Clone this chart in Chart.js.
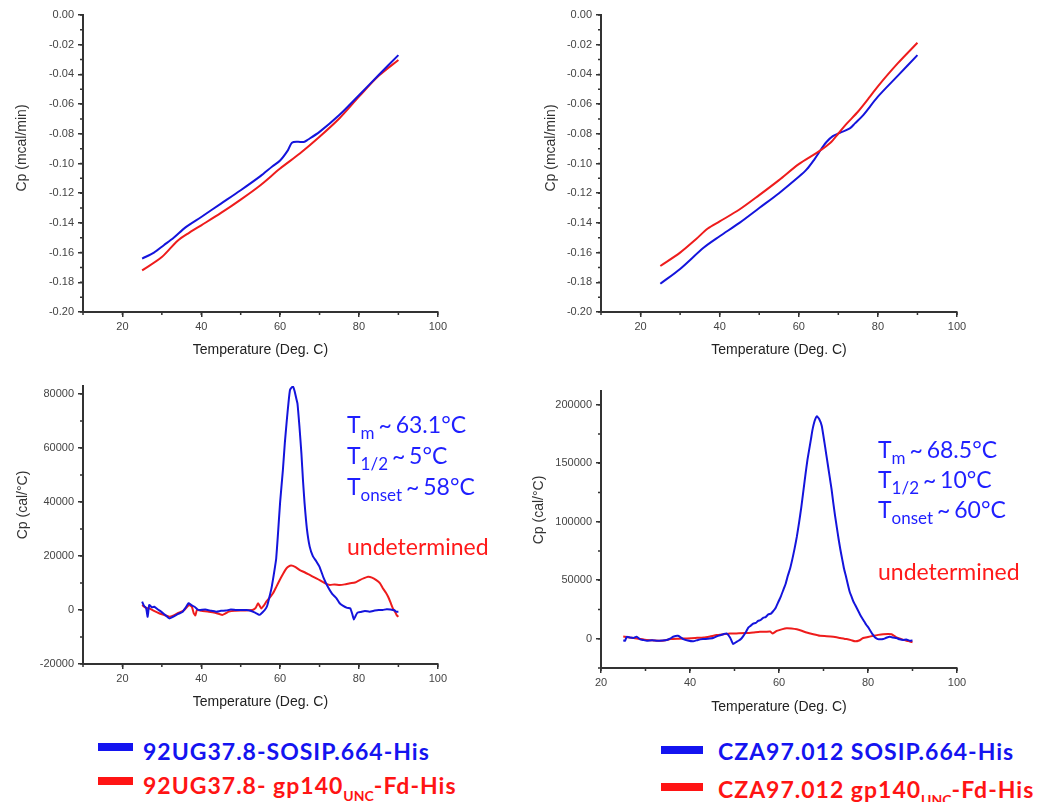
<!DOCTYPE html>
<html>
<head>
<meta charset="utf-8">
<script src="https://cdn.jsdelivr.net/npm/chart.js@4.4.1/dist/chart.umd.min.js"></script>
<style>
  body { margin: 0; background: #fff; width: 1037px; height: 802px; position: relative; overflow: hidden; font-family: Lato, sans-serif; }
  canvas { position: absolute; }
  .ytitle { position: absolute; transform: translate(-50%, -50%) rotate(-90deg); font: 14px "Liberation Sans", Arial, sans-serif; color: #333; white-space: nowrap; }
  .note { position: absolute; font-size: 23px; line-height: 30px; white-space: nowrap; }
  .note.blue { word-spacing: -2px; }
  .note sub { font-size: 17px; vertical-align: -6px; line-height: 0; }
  .blue { color: #1f1fff; }
  .red { color: #ff1a1a; }
  .swatch { position: absolute; height: 8px; }
  .leg { position: absolute; font-weight: bold; font-size: 23px; letter-spacing: 1px; line-height: 26px; white-space: nowrap; }
  .leg sub { font-size: 14px; letter-spacing: 0; vertical-align: -7px; line-height: 0; }
</style>
</head>
<body>
<canvas id="tl"></canvas>
<canvas id="tr"></canvas>
<canvas id="bl"></canvas>
<canvas id="br"></canvas>

<div class="ytitle" style="left:21px;top:148px">Cp (mcal/min)</div>
<div class="ytitle" style="left:550px;top:148px">Cp (mcal/min)</div>
<div class="ytitle" style="left:22px;top:505px">Cp (cal/°C)</div>
<div class="ytitle" style="left:538px;top:510px">Cp (cal/°C)</div>

<div class="note blue" style="left:347px;top:409px">T<sub>m</sub> ~ 63.1°C</div>
<div class="note blue" style="left:347px;top:440px">T<sub>1/2</sub> ~ 5°C</div>
<div class="note blue" style="left:347px;top:471px">T<sub>onset</sub> ~ 58°C</div>
<div class="note red" style="left:347px;top:531px">undetermined</div>

<div class="note blue" style="left:878px;top:434px">T<sub>m</sub> ~ 68.5°C</div>
<div class="note blue" style="left:878px;top:464px">T<sub>1/2</sub> ~ 10°C</div>
<div class="note blue" style="left:878px;top:494px">T<sub>onset</sub> ~ 60°C</div>
<div class="note red" style="left:878px;top:556px">undetermined</div>

<div class="swatch" style="left:98px;top:743px;width:35px;background:#1414f0"></div>
<div class="leg" style="left:143px;top:738px;color:#1414f0">92UG37.8-SOSIP.664-His</div>
<div class="swatch" style="left:98px;top:777px;width:35px;background:#ff1414"></div>
<div class="leg" style="left:143px;top:772px;color:#ff1414">92UG37.8- gp140<sub>UNC</sub>-Fd-His</div>

<div class="swatch" style="left:661px;top:746px;width:42px;background:#1414f0"></div>
<div class="leg" style="left:718px;top:738px;color:#1414f0">CZA97.012 SOSIP.664-His</div>
<div class="swatch" style="left:661px;top:783px;width:42px;background:#ff1414"></div>
<div class="leg" style="left:718px;top:776px;color:#ff1414">CZA97.012 gp140<sub>UNC</sub>-Fd-His</div>

<script>
// tick labels
const tempTicks = [20, 40, 60, 80, 100];
const topCpTicks = [0, -0.02, -0.04, -0.06, -0.08, -0.10, -0.12, -0.14, -0.16, -0.18, -0.20];
const blCpTicks = [-20000, 0, 20000, 40000, 60000, 80000];
const brCpTicks = [0, 50000, 100000, 150000, 200000];

// top row, baseline scans (mcal/min)
const tlBlueT = [25, 28, 30.5, 33, 36, 40, 45, 50, 55, 58, 60, 62, 63, 64.5, 66, 67, 70, 75, 80, 85, 90];
const tlBlueCp = [-0.164, -0.160, -0.155, -0.150, -0.143, -0.136, -0.127, -0.118, -0.1085, -0.102, -0.098, -0.091, -0.086, -0.0854, -0.0855, -0.084, -0.0787, -0.0674, -0.054, -0.0404, -0.027];
const tlRedT = [25, 30, 34, 37, 40, 45, 50, 55, 60, 65, 70, 75, 80, 85, 90];
const tlRedCp = [-0.172, -0.163, -0.152, -0.1465, -0.1416, -0.1333, -0.1243, -0.1146, -0.1034, -0.0933, -0.082, -0.0697, -0.055, -0.041, -0.0303];

const trBlueT = [25, 30, 36, 40, 45, 50, 55, 60, 62, 64, 65, 66, 67, 68.6, 70.4, 72.9, 74.2, 76.3, 80, 85, 90];
const trBlueCp = [-0.181, -0.171, -0.1566, -0.149, -0.140, -0.130, -0.120, -0.109, -0.104, -0.097, -0.093, -0.089, -0.0855, -0.0816, -0.0793, -0.0764, -0.073, -0.0674, -0.055, -0.041, -0.027];
const trRedT = [25, 30, 34, 37, 40, 45, 50, 55, 60, 65, 68, 70, 72, 75, 78, 80, 85, 90];
const trRedCp = [-0.169, -0.160, -0.151, -0.1438, -0.139, -0.131, -0.1213, -0.1112, -0.1004, -0.092, -0.086, -0.0798, -0.0735, -0.065, -0.055, -0.048, -0.0326, -0.0187];

// bottom row, excess heat capacity (cal/°C)
const blBlueT = [25.0, 25.5, 26.0, 26.4, 26.8, 27.5, 28.1, 29.0, 29.8, 30.8, 31.9, 32.8, 33.6, 34.5, 35.3, 36.0, 36.8, 37.5, 38.3, 39.0,
  39.5, 41.0, 42.5, 43.8, 45.0, 46.3, 47.5, 48.8, 50.0, 51.4, 52.5, 53.5, 54.2, 54.8, 55.5, 56.1, 56.7, 57.3, 57.8, 58.3,
  58.7, 59.0, 59.4, 60.0, 60.7, 61.2, 61.7, 62.1, 62.5, 63.0, 63.3, 63.7, 64.0, 64.4, 64.9, 65.4, 65.8, 66.2, 66.8, 67.5,
  68.3, 69.2, 70.0, 71.0, 72.1, 73.2, 74.3, 75.1, 76.0, 77.0, 77.8, 78.3, 78.7, 79.2, 79.6, 80.5, 81.5, 82.7, 84.0, 85.0,
  86.0, 87.0, 88.0, 89.0, 89.4, 90.0];
const blBlueCp = [3100, 1500, 800, -2500, 1850, 1000, 1200, 200, -600, -1800, -3100, -2500, -1850, -1200, -600, 800, 2500, 1800, 1200, 300,
  0, 200, -300, -600, -300, -200, 200, 0, 0, 0, -300, -900, -1400, -1800, -900, 0, 1500, 4900, 8000, 12300,
  16000, 19000, 27000, 40000, 51800, 62000, 70400, 76500, 81500, 82600, 82700, 81000, 79000, 76500, 68000, 58000, 48000, 39600, 30000, 23500,
  20000, 18000, 16000, 12000, 8600, 6000, 4300, 2500, 1500, 800, 600, -1500, -3500, -2000, -1000, -700, -400, -600, -200, 0,
  0, 300, 200, -100, -600, -600];
const blRedT = [25.0, 26.0, 26.8, 28.0, 29.3, 30.5, 31.9, 33.0, 34.3, 35.5, 36.9, 37.6, 38.1, 38.5, 38.9, 40.0, 41.9, 43.5, 45.3, 46.2,
  47.0, 48.5, 50.4, 52.0, 53.0, 53.8, 54.4, 55.2, 55.8, 56.5, 57.3, 58.2, 59.0, 59.9, 60.8, 61.6, 62.2, 62.8, 63.8, 65.0,
  66.2, 67.5, 68.8, 70.0, 71.3, 72.6, 73.8, 75.1, 76.4, 77.7, 79.0, 80.2, 81.3, 82.3, 83.3, 84.4, 85.3, 86.1, 86.8, 87.4,
  88.0, 88.6, 89.2, 89.6, 90.0];
const blRedCp = [1850, 800, 600, -300, -1200, -1800, -2500, -2000, -1000, -200, 1850, 1200, -1200, -2000, 0, -300, -600, -1000, -1800, -1200,
  -600, -300, -200, -100, 0, 800, 2500, 600, 1500, 3100, 4500, 6200, 8500, 11100, 13500, 15400, 16200, 16500, 16000, 14800,
  14000, 13000, 12000, 11100, 10000, 9300, 9500, 9300, 9500, 9900, 10200, 11100, 11800, 12300, 12000, 11100, 10000, 8000, 6500, 4900,
  2800, 600, -800, -2000, -2500];

const brBlueT = [25.0, 25.4, 25.8, 26.5, 27.3, 28.0, 28.8, 29.5, 30.3, 31.5, 32.6, 33.8, 34.8, 35.5, 36.2, 37.3, 38.5, 39.5, 40.7, 41.8,
  42.9, 44.0, 45.2, 46.3, 47.5, 48.2, 49.0, 49.7, 50.3, 50.9, 51.5, 52.0, 52.6, 53.1, 53.6, 54.2, 54.8, 55.3, 55.9, 56.5,
  57.0, 57.6, 58.2, 58.7, 59.2, 59.8, 60.4, 61.0, 61.5, 62.0, 62.5, 63.0, 63.5, 64.0, 64.5, 65.0, 65.5, 66.0, 66.4, 66.8,
  67.2, 67.5, 68.0, 68.5, 69.0, 69.6, 70.2, 70.6, 71.0, 71.4, 71.8, 72.2, 72.6, 73.0, 73.4, 73.8, 74.2, 74.6, 75.0, 75.5,
  75.9, 76.3, 76.7, 77.1, 77.5, 77.9, 78.2, 78.7, 79.2, 79.6, 80.1, 80.5, 81.0, 81.6, 82.2, 82.8, 83.4, 84.1, 84.9, 85.6,
  86.4, 87.1, 87.9, 88.6, 89.4, 90.0];
const brBlueCp = [-1500, -1700, 1700, 1000, 600, 1700, -500, -1100, -1700, -1200, -1700, -1500, -1100, 0, 1700, 2500, -300, -1500, -2200, -1000,
  -300, 0, 600, 2500, 3900, 4500, 1100, -4500, -3000, -1700, 0, 2500, 6000, 9500, 11000, 12900, 13500, 15200, 16000, 18000,
  18500, 20800, 21500, 23600, 26000, 31000, 36000, 42000, 47000, 54000, 60000, 68000, 77000, 87000, 99000, 112000, 127000, 142000, 153000, 162000,
  171000, 178000, 186000, 190000, 188000, 182000, 168000, 158000, 148000, 138000, 128000, 116000, 105000, 95000, 85000, 76000, 68000, 60000, 54000, 46000,
  40000, 36000, 32000, 29000, 26000, 23000, 20800, 17500, 14500, 12000, 9500, 7000, 4000, 1100, -300, -500, -300, 800, 1700, 1000,
  600, -500, -1100, -600, -1700, -1500];
const brRedT = [25.0, 25.4, 26.5, 27.3, 28.8, 30.3, 31.8, 33.3, 34.5, 35.6, 37.5, 39.3, 41.2, 43.1, 44.5, 46.0, 47.5, 49.0, 51.0, 52.7,
  54.2, 55.7, 57.0, 58.0, 58.6, 59.5, 60.6, 61.7, 62.8, 64.0, 65.1, 66.2, 67.7, 69.2, 70.7, 72.2, 73.7, 75.2, 76.2, 77.1,
  78.0, 78.9, 80.0, 81.2, 82.3, 83.4, 84.4, 85.3, 85.9, 86.4, 87.5, 88.7, 89.4, 90.0];
const brRedCp = [2000, 1700, 1000, 600, -300, -1100, -1400, -1700, -1200, -300, 0, 300, 700, 1100, 2000, 3100, 3800, 4500, 4600, 4800,
  5300, 5900, 6000, 6200, 4500, 6700, 8000, 9000, 8800, 8100, 6800, 5300, 3800, 2500, 2200, 1700, 700, -300, -1200, -2200,
  -1500, 600, 1500, 2500, 3300, 3900, 4000, 3900, 2500, 1100, -300, -1700, -2300, -3000];

const BLUE = '#1414dc';
const RED = '#ee1c1c';
const AXIS = '#333';

const pts = (t, v) => t.map((x, i) => ({ x, y: v[i] }));

// short unlabeled ticks between the labelled ones
const minorTicks = {
  id: 'minorTicks',
  afterDraw(chart, args, opts) {
    const { ctx } = chart;
    ctx.save();
    ctx.strokeStyle = AXIS;
    ctx.lineWidth = 1.5;
    ctx.beginPath();
    ['x', 'y'].forEach(k => {
      const s = chart.scales[k], step = opts[k];
      for (let i = Math.ceil(s.min / step - 1e-6); i * step <= s.max + 1e-9; i++) {
        const p = s.getPixelForValue(i * step);
        if (k === 'x') { ctx.moveTo(p, s.top); ctx.lineTo(p, s.top + 3); }
        else { ctx.moveTo(s.right, p); ctx.lineTo(s.right - 3, p); }
      }
    });
    ctx.stroke();
    ctx.restore();
  }
};

const tickFont = { family: '"Liberation Sans", Arial, sans-serif', size: 11 };

function panel(id, box, x, y, datasets, fmt, tension) {
  const cv = document.getElementById(id);
  cv.width = box.w; cv.height = box.h;
  cv.style.left = box.left + 'px';
  cv.style.top = box.top + 'px';
  const axisBits = {
    grid: { drawOnChartArea: false, drawTicks: true, tickLength: 5, color: AXIS, lineWidth: 1.5 },
    border: { display: true, color: AXIS, width: 2 }
  };
  return new Chart(cv, {
    type: 'line',
    data: { datasets },
    options: {
      responsive: false, animation: false, devicePixelRatio: 1,
      layout: { padding: { left: 0, top: box.plotT - box.top, right: box.left + box.w - box.plotR, bottom: 0 } },
      elements: { point: { radius: 0 }, line: { borderWidth: 2, tension } },
      plugins: { legend: { display: false }, tooltip: { enabled: false }, minorTicks: { x: x.minor, y: y.minor } },
      scales: {
        x: {
          type: 'linear', min: x.min, max: x.max,
          afterBuildTicks(s) { s.ticks = x.ticks.map(value => ({ value })); },
          ticks: { padding: 3, color: '#444', font: tickFont, maxRotation: 0, autoSkip: false },
          ...axisBits,
          title: {
            display: true, text: 'Temperature (Deg. C)', color: '#222',
            font: { family: '"Liberation Sans", Arial, sans-serif', size: 14 },
            padding: { top: 0, bottom: box.top + box.h - box.titleY - 8.4 }
          },
          afterFit(s) { s.height = box.top + box.h - box.plotB; }
        },
        y: {
          type: 'linear', min: y.min, max: y.max,
          afterBuildTicks(s) { s.ticks = y.ticks.map(value => ({ value })); },
          ticks: { padding: 4, color: '#444', font: tickFont, callback: fmt, autoSkip: false },
          ...axisBits,
          afterFit(s) { s.width = box.plotL - box.left; }
        }
      }
    },
    plugins: [minorTicks]
  });
}

const fmt2 = v => v.toFixed(2);
const fmt0 = v => String(v);
const mk = (t, v, c) => ({ data: pts(t, v), borderColor: c, fill: false });

panel('tl', { left: 0, top: 0, w: 450, h: 370, plotL: 83, plotR: 438, plotT: 15, plotB: 312, titleY: 350 },
  { min: 10, max: 100, ticks: tempTicks, minor: 10 }, { min: -0.2, max: 0, ticks: topCpTicks, minor: 0.01 },
  [mk(tlBlueT, tlBlueCp, BLUE), mk(tlRedT, tlRedCp, RED)], fmt2, 0.3);

panel('tr', { left: 530, top: 0, w: 450, h: 370, plotL: 601, plotR: 957, plotT: 15, plotB: 312, titleY: 350 },
  { min: 10, max: 100, ticks: tempTicks, minor: 10 }, { min: -0.2, max: 0, ticks: topCpTicks, minor: 0.01 },
  [mk(trRedT, trRedCp, RED), mk(trBlueT, trBlueCp, BLUE)], fmt2, 0.3);

panel('bl', { left: 0, top: 372, w: 450, h: 350, plotL: 83, plotR: 438, plotT: 386, plotB: 664, titleY: 702 },
  { min: 10, max: 100, ticks: tempTicks, minor: 10 }, { min: -20000, max: 83000, ticks: blCpTicks, minor: 10000 },
  [mk(blBlueT, blBlueCp, BLUE), mk(blRedT, blRedCp, RED)], fmt0, 0.15);

panel('br', { left: 530, top: 380, w: 450, h: 340, plotL: 601, plotR: 957, plotT: 387, plotB: 668, titleY: 707 },
  { min: 20, max: 100, ticks: tempTicks, minor: 10 }, { min: -25000, max: 212000, ticks: brCpTicks, minor: 25000 },
  [mk(brBlueT, brBlueCp, BLUE), mk(brRedT, brRedCp, RED)], fmt0, 0.15);
</script>
</body>
</html>
